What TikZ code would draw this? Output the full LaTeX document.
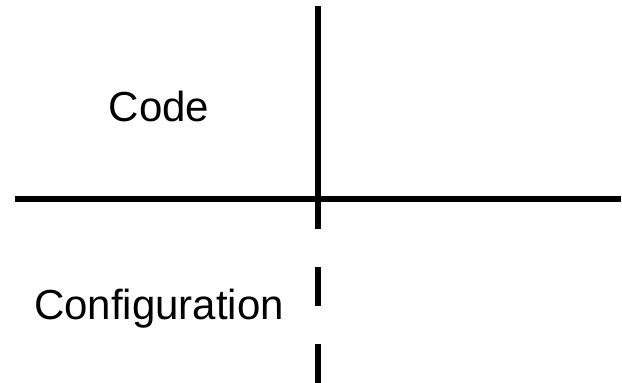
\documentclass[tikz,border=0pt]{standalone}
\usepackage{fontspec}
\setmainfont{Liberation Sans}
\tikzset{
  axis/.style={line width=6pt, line cap=butt, black},
  dashaxis/.style={axis, dash pattern=on 39pt off 38pt},
  lbl/.style={anchor=base, inner sep=0pt, font=\fontsize{42}{50}\selectfont}
}
\begin{document}
\begin{tikzpicture}[x=1pt,y=-1pt]
\useasboundingbox (0,0) rectangle (622,383);
\coordinate (vtop) at (318,6);
\coordinate (vmid) at (318,190);
\coordinate (vbot) at (318,383);
\coordinate (hleft) at (15,199);
\coordinate (hright) at (621,199);
\draw[axis] (vtop) -- (vmid);
\draw[dashaxis] (vmid) -- (vbot);
\draw[axis] (hleft) -- (hright);
\node[lbl] (code) at (159,121) {Code};
\node[lbl] (config) at (159,319) {Configuration};
\end{tikzpicture}
\end{document}
